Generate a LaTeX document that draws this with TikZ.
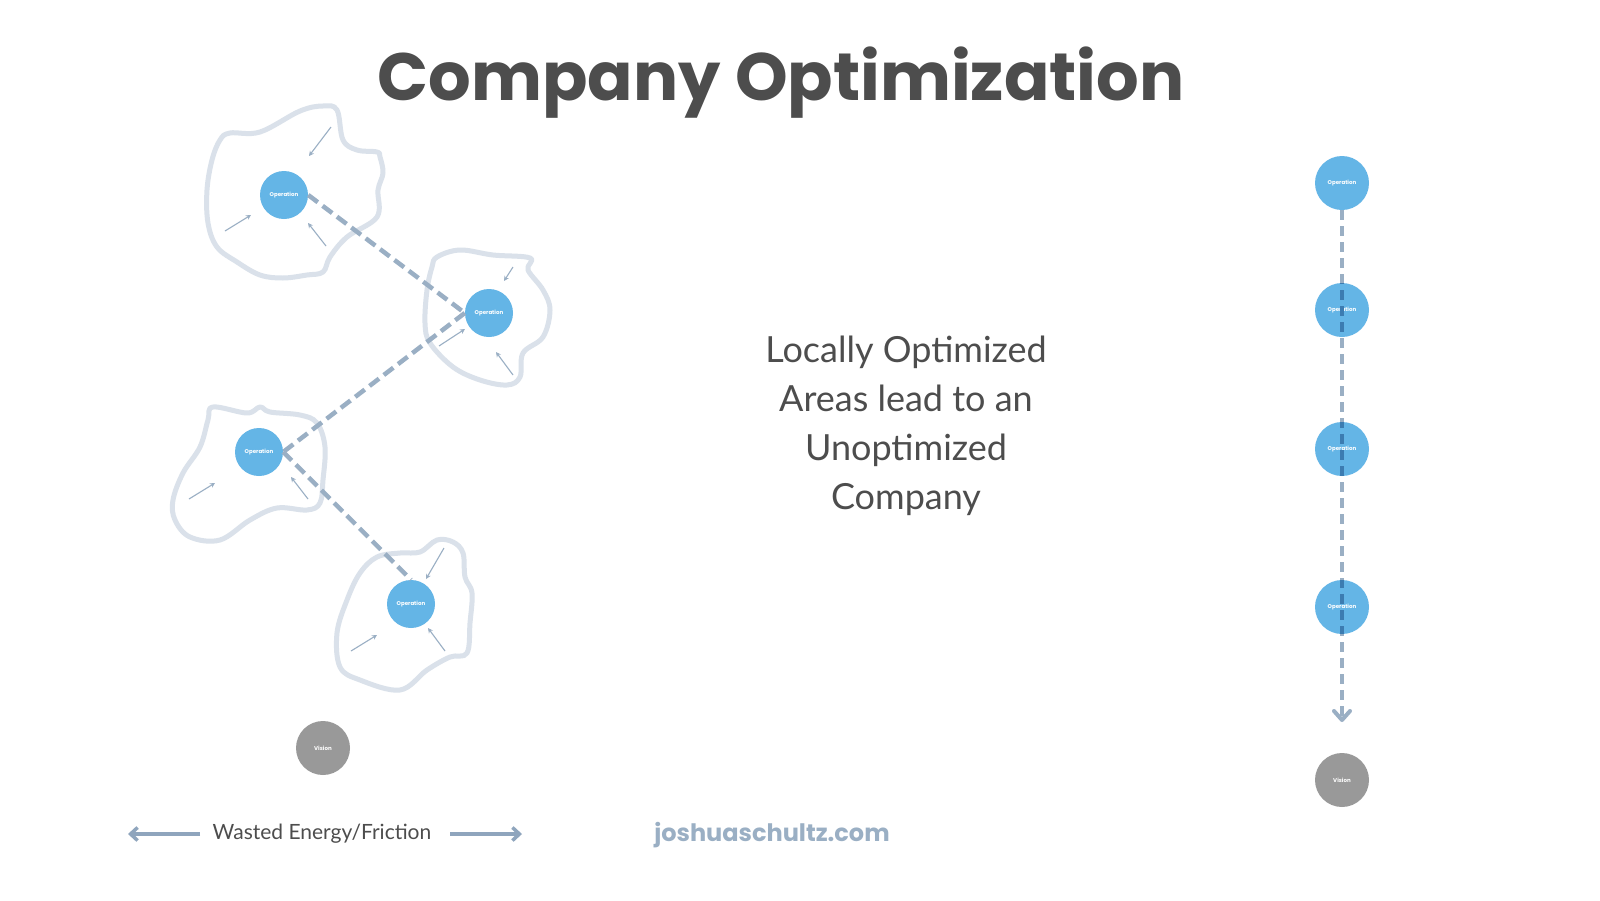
\documentclass[tikz,border=0pt]{standalone}
\usepackage{fontspec}
\newfontfamily\pop{Poppins}
\newfontfamily\lato{Lato}
\usetikzlibrary{arrows.meta}
\definecolor{opblue}{HTML}{64B5E6}
\definecolor{visgray}{HTML}{999999}
\definecolor{blobc}{HTML}{DAE1EA}
\definecolor{dashc}{HTML}{9AAFC4}
\definecolor{dashdark}{HTML}{3C7CB1}
\definecolor{titlec}{HTML}{4D4D4D}
\definecolor{legc}{HTML}{8FA5BD}
\tikzset{
  opnode/.style={circle, fill=opblue, minimum size=48pt, inner sep=0pt, text=white, font=\pop\bfseries\fontsize{5.5}{6}\selectfont},
  opnodeR/.style={opnode, minimum size=54pt},
  visnode/.style={circle, fill=visgray, minimum size=54pt, inner sep=0pt, text=white, font=\pop\bfseries\fontsize{5.5}{6}\selectfont},
  blob/.style={draw=blobc, line width=5pt, line join=round},
  link/.style={draw=dashc, line width=4.5pt, dash pattern=on 12pt off 6pt},
  vlink/.style={line width=4pt, dash pattern=on 10pt off 6pt},
  tiny/.style={draw=dashc, line width=1.1pt, -{Stealth[length=5pt,width=5pt]}},
  legarrow/.style={draw=legc, line width=4pt, -{Straight Barb[length=7pt,width=13pt,line width=3.5pt]}},
}
\begin{document}
\begin{tikzpicture}[x=1pt,y=-1pt]
\useasboundingbox[fill=white] (0,0) rectangle (1600,900);

% title
\node[text=titlec, font=\pop\bfseries\fontsize{67}{80}\selectfont, anchor=base] (title) at (781,100) {Company Optimization};

% blobs
\draw[blob] plot[smooth cycle, tension=0.6] coordinates {(230,133) (260,132) (300,111) (323,106) (337,110) (343,140) (357,150) (377,152) (380,157) (383,173) (378,190) (377,217) (347,237) (330,257) (323,272) (307,275) (283,278) (260,275) (237,262) (217,247) (208,223) (207,190) (212,160) (220,140)};
\draw[blob] plot[smooth cycle, tension=0.6] coordinates {(437,257) (460,250) (493,255) (530,258) (528,270) (543,290) (550,310) (543,337) (523,353) (520,377) (507,385) (480,380) (453,367) (430,343) (425,323) (427,290) (432,267)};
\draw[blob] plot[smooth cycle, tension=0.6] coordinates {(213,407) (247,413) (260,407) (270,412) (300,415) (317,423) (325,447) (323,480) (320,503) (307,510) (277,508) (250,520) (220,540) (190,537) (175,520) (173,500) (183,473) (200,447) (208,420)};
\draw[blob] plot[smooth cycle, tension=0.6] coordinates {(377,557) (400,553) (420,552) (437,540) (453,542) (463,553) (465,577) (472,593) (470,623) (467,653) (450,657) (427,670) (400,690) (360,680) (340,667) (337,633) (347,600) (360,573)};

% small arrows
\draw[tiny] (331,127) -- (309,156);
\draw[tiny] (225,231) -- (251,215);
\draw[tiny] (326,246) -- (308,223);
\draw[tiny] (513,267) -- (504,281);
\draw[tiny] (439,346) -- (465,329);
\draw[tiny] (513,375) -- (496,352);
\draw[tiny] (189,499) -- (215,483);
\draw[tiny] (308,499) -- (291,477);
\draw[tiny] (444,548) -- (426,579);
\draw[tiny] (351,651) -- (377,635);
\draw[tiny] (445,651) -- (428,628);

% left operations
\node[opnode] (c1) at (284,195) {Operation};
\node[opnode] (c2) at (489,313) {Operation};
\node[opnode] (c3) at (259,452) {Operation};
\node[opnode] (c4) at (411,604) {Operation};
\node[visnode] (v1) at (323,748) {Vision};

\draw[link] (c1.east) -- (c2.west);
\draw[link] (c2.west) -- (c3.east);
\draw[link] (c3.east) -- (c4.north);

% right column
\node[opnodeR] (r1) at (1342,183) {Operation};
\node[opnodeR] (r2) at (1342,310) {Operation};
\node[opnodeR] (r3) at (1342,449) {Operation};
\node[opnodeR] (r4) at (1342,607) {Operation};
\node[visnode] (v2) at (1342,780) {Vision};
\coordinate (tip) at (1342,720);
\draw[vlink, draw=dashc] (r1.south) -- (tip);
\foreach \r in {r2,r3,r4}{
  \begin{scope}
    \clip (\r.center) circle (27pt);
    \draw[vlink, draw=dashdark] (r1.south) -- (tip);
  \end{scope}
}
\draw[draw=dashc, line width=4pt, line cap=round, line join=round] (1334,711) -- (tip) -- (1350,711);

% middle text
\node[text=titlec, font=\lato\fontsize{36}{49}\selectfont, align=center, anchor=north] (mid) at (906,332) {Locally Optimized\\Areas lead to an\\Unoptimized\\Company};

% legend
\node[text=titlec, font=\lato\fontsize{21}{26}\selectfont] (leg) at (322,834) {Wasted Energy/Friction};
\coordinate (la) at (128,834);
\coordinate (ra) at (522,834);
\draw[legarrow] (200,834) -- (la);
\draw[legarrow] (450,834) -- (ra);

\node[text=dashc, font=\pop\bfseries\fontsize{24}{28}\selectfont] (url) at (772,835) {joshuaschultz.com};
\end{tikzpicture}
\end{document}
